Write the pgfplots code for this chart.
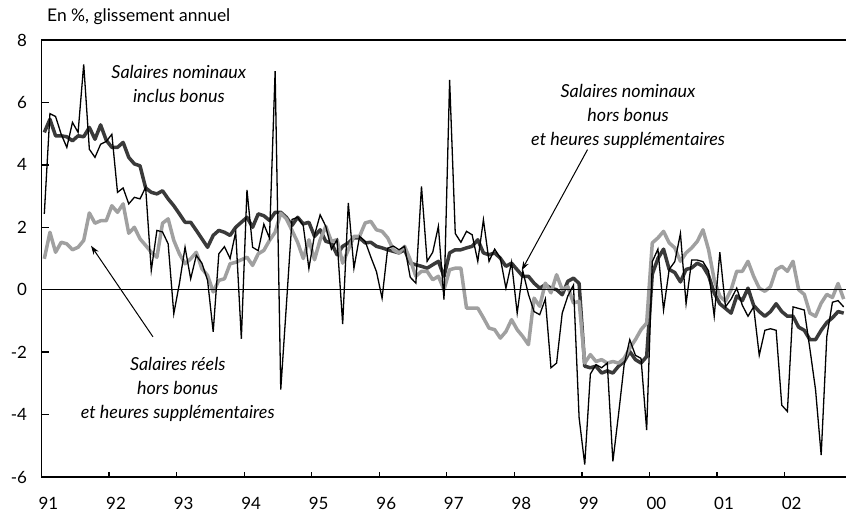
\documentclass[border=0pt]{standalone}
\usepackage{pgfplots}
\pgfplotsset{compat=1.18}
\usepackage{pgfplotstable}
\usepackage{fontspec}
\setmainfont{Lato}
\usetikzlibrary{arrows.meta}
\definecolor{darkser}{HTML}{3A3A3A}
\definecolor{lightser}{HTML}{A0A0A0}

% m = month index from Jan 1991; nb = nominal incl. bonus; nh = nominal excl. bonus & overtime; rh = real excl. bonus & overtime
\pgfplotstableread{
m nb nh rh
0 2.43 5.04 0.99
1 5.64 5.46 1.84
2 5.55 4.93 1.20
3 4.98 4.93 1.52
4 4.56 4.90 1.47
5 5.36 4.77 1.28
6 5.04 4.93 1.36
7 7.22 4.90 1.58
8 4.50 5.20 2.46
9 4.24 4.82 2.13
10 4.66 5.28 2.21
11 4.75 4.79 2.21
12 4.98 4.56 2.69
13 3.12 4.56 2.48
14 3.26 4.72 2.75
15 2.75 4.24 1.81
16 2.96 4.03 2.00
17 2.91 3.97 1.63
18 3.28 3.26 1.42
19 0.62 3.12 1.20
20 1.90 3.07 1.04
21 1.85 3.17 2.13
22 1.47 2.91 2.27
23 -0.77 2.69 1.58
24 0.20 2.43 1.15
25 1.36 2.16 0.83
26 0.35 2.16 0.99
27 1.10 1.90 1.20
28 0.85 1.63 0.67
29 0.30 1.36 0.46
30 -1.35 1.74 -0.07
31 1.15 1.90 0.30
32 1.38 1.84 0.35
33 1.00 1.74 0.83
34 1.85 2.00 0.88
35 -1.57 2.16 0.96
36 3.20 2.32 1.04
37 1.36 2.00 0.78
38 1.25 2.43 1.15
39 2.10 2.37 1.26
40 1.65 2.22 1.58
41 7.00 2.48 1.84
42 -3.20 2.48 2.45
43 -0.50 2.32 2.27
44 2.25 2.06 1.90
45 2.32 2.32 1.52
46 2.05 2.11 1.00
47 0.68 2.16 1.60
48 1.75 1.71 0.96
49 2.40 1.92 1.60
50 2.03 1.55 2.03
51 1.30 1.50 1.55
52 1.60 1.12 1.60
53 -1.10 1.39 0.85
54 2.78 1.50 1.28
55 0.69 1.66 1.71
56 1.71 1.66 1.71
57 1.55 1.50 2.14
58 1.05 1.52 2.19
59 0.58 1.39 1.92
60 -0.27 1.34 1.87
61 1.33 1.28 1.66
62 1.40 1.23 1.28
63 1.28 1.18 1.18
64 1.39 1.28 1.39
65 0.40 0.85 0.96
66 0.21 0.80 0.43
67 3.31 0.75 0.59
68 0.91 0.69 0.59
69 1.20 0.80 0.32
70 2.03 0.91 0.43
71 -0.32 0.43 0.00
72 6.72 1.18 0.64
73 1.80 1.28 0.69
74 1.52 1.28 0.69
75 1.87 1.34 -0.59
76 1.76 1.39 -0.59
77 0.91 1.60 -0.59
78 2.24 1.18 -0.90
79 0.91 1.12 -1.23
80 1.30 1.18 -1.28
81 1.02 1.01 -1.55
82 0.05 0.75 -1.34
83 0.88 0.85 -0.96
84 -0.75 0.64 -1.28
85 0.60 0.43 -1.50
86 -0.15 0.43 -1.76
87 -0.70 0.21 -0.27
88 -0.80 0.05 -0.53
89 -0.30 0.16 0.21
90 -2.50 0.05 -0.10
91 -2.35 0.00 0.48
92 -0.75 -0.16 0.00
93 -0.20 0.27 0.10
94 0.15 0.37 -0.43
95 -4.10 0.20 -0.37
96 -5.60 -2.45 -2.35
97 -2.70 -2.50 -2.08
98 -2.40 -2.45 -2.30
99 -2.50 -2.67 -2.24
100 -2.35 -2.60 -2.35
101 -5.50 -2.67 -2.30
102 -4.00 -2.45 -2.35
103 -2.40 -2.30 -2.20
104 -1.60 -1.98 -1.87
105 -2.10 -2.24 -1.60
106 -2.20 -2.35 -1.28
107 -4.50 -2.14 -1.07
108 0.90 0.50 1.50
109 1.30 1.00 1.66
110 -0.65 1.30 1.87
111 0.65 0.65 1.50
112 0.90 0.55 1.34
113 1.80 0.25 0.91
114 -0.45 0.65 1.18
115 0.95 0.70 1.34
116 0.95 0.85 1.55
117 0.90 0.75 1.92
118 0.60 0.45 1.28
119 -0.85 -0.10 0.32
120 1.20 -0.45 -0.21
121 -0.55 -0.60 -0.37
122 -0.30 -0.75 0.00
123 0.05 -0.20 0.59
124 -0.50 -0.35 0.59
125 -0.85 0.05 0.91
126 -0.55 -0.50 0.43
127 -2.10 -0.70 0.05
128 -1.30 -0.85 -0.05
129 -1.25 -0.70 0.10
130 -1.30 -0.45 0.64
131 -3.70 -0.70 0.75
132 -3.90 -0.85 0.59
133 -0.55 -0.85 0.91
134 -0.60 -1.20 0.00
135 -0.65 -1.30 -0.15
136 -1.90 -1.60 -0.75
137 -3.20 -1.60 -0.85
138 -5.30 -1.30 -0.43
139 -1.50 -1.05 -0.15
140 -0.40 -0.90 -0.25
141 -0.35 -0.70 0.20
142 -0.55 -0.75 -0.30
}\data

\begin{document}
\begin{tikzpicture}
\begin{axis}[
  at={(0,0)}, anchor=south west,
  scale only axis, width=805bp, height=437bp,
  xmin=0, xmax=143, ymin=-6, ymax=8,
  clip=false,
  axis line style={line width=1.8bp, black},
  xtick={0,12,...,132},
  xticklabels={91,92,93,94,95,96,97,98,99,00,01,02},
  ytick={-6,-4,...,8},
  xtick pos=lower, ytick pos=left,
  tick align=inside,
  tick style={line width=1.3bp, black},
  xtick style={/pgfplots/major tick length=5bp},
  ytick style={/pgfplots/major tick length=8bp},
  /pgf/number format/assume math mode=true,
  ticklabel style={font=\fontsize{17}{20}\selectfont},
  xticklabel style={xshift=7bp, yshift=-17bp},
  yticklabel style={xshift=-11bp},
]
\addplot[darkser, line width=3.5bp, line join=round] table[x expr=\thisrow{m}+0.5, y=nh] {\data};
\addplot[lightser, line width=3.5bp, line join=round] table[x expr=\thisrow{m}+0.5, y=rh] {\data};
\addplot[black, line width=1.3bp, line join=miter] table[x expr=\thisrow{m}+0.5, y=nb] {\data};
\addplot[black, line width=1.3bp] coordinates {(0,0) (143,0)};

\node[align=center, font=\fontsize{18}{24.5}\selectfont\itshape] at (axis cs:24.4,6.6) {Salaires nominaux\\inclus bonus};
\node[align=center, font=\fontsize{18}{24}\selectfont\itshape] at (axis cs:104.2,5.55) {Salaires nominaux\\hors bonus\\et heures supplémentaires};
\node[align=center, font=\fontsize{18}{24}\selectfont\itshape] at (axis cs:24.2,-3.2) {Salaires réels\\hors bonus\\et heures supplémentaires};

\draw[line width=1bp, -{Stealth[length=9bp,width=6bp]}] (axis cs:19.8,-1.51) -- (axis cs:8.8,1.41);
\draw[line width=1bp, -{Stealth[length=9bp,width=6bp]}] (axis cs:97.0,4.49) -- (axis cs:85.3,0.62);
\end{axis}
\node[anchor=base west, font=\fontsize{17.5}{20}\selectfont, inner sep=0pt] at (5.5bp,455bp) {En \%, glissement annuel};
\pgfresetboundingbox
\path[use as bounding box] (-41.5bp,-36bp) rectangle (804.5bp,477bp);
\end{tikzpicture}
\end{document}
